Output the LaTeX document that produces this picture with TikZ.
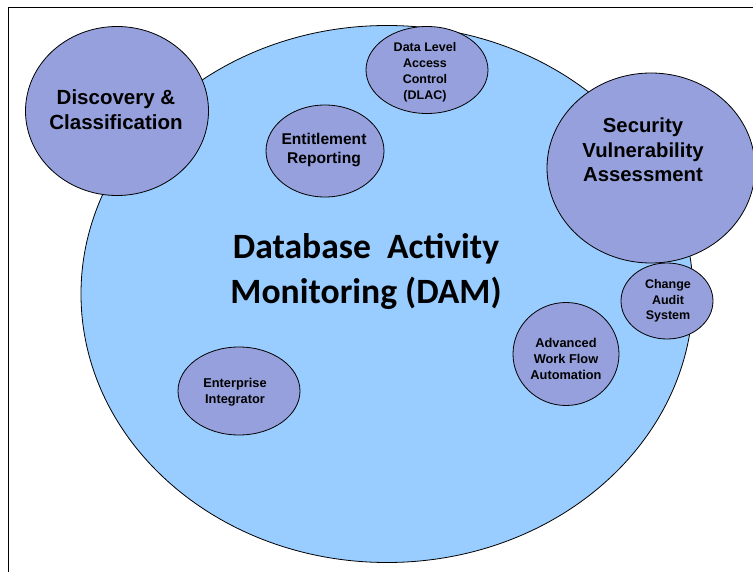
\documentclass[tikz,border=0pt]{standalone}
\usepackage{fontspec}
\setmainfont{Liberation Sans}
\newfontfamily\calibrifont{Carlito}
\usetikzlibrary{shapes.geometric}

\begin{document}
\begin{tikzpicture}[x=1pt, y=-1pt]
            \tikzset{
                bubble/.style={
                    ellipse, draw=black, line width=0.8pt,
                    fill=bubbleColor, inner sep=0pt
                },
                bubble text/.style={
                    align=center, font=\bfseries, inner sep=0pt
                }
            }

            % Colors of the fills
            \definecolor{mainColor}{RGB}{153,204,255}
            \definecolor{bubbleColor}{RGB}{150,160,220}

            \useasboundingbox (0,0) rectangle (753,572);

            % --- FRAME (left and top edges only) ---
            \draw[line width=0.9pt] (8,572) -- (8,7) -- (753,7);

            % --- THE MAIN ELLIPSE ---
            \node[ellipse, draw=black, line width=0.8pt, fill=mainColor,
                  minimum width=612, minimum height=537, inner sep=0pt]
                  (damShape) at (387,294) {};

            % Main label
            \node[align=center, inner sep=0pt,
                  font=\calibrifont\bfseries\fontsize{35.6}{45}\selectfont]
                  (dam) at (366,272) {Database~ Activity\\Monitoring (DAM)};

            % --- THE BUBBLES ---
            % Discovery & Classification
            \node[bubble, minimum width=183, minimum height=169] (dscShape) at (117,111) {};
            \node[bubble text, font=\bfseries\fontsize{20.5}{25}\selectfont]
                  (dsc) at (116,110) {Discovery \&\\Classification};

            % Data Level Access Control
            \node[bubble, minimum width=122, minimum height=87] (dlacShape) at (427,70) {};
            \node[bubble text, font=\bfseries\fontsize{12.5}{16}\selectfont]
                  (dlac) at (425,72) {Data Level\\Access\\Control\\(DLAC)};

            % Entitlement Reporting
            \node[bubble, minimum width=118, minimum height=92] (entShape) at (325,151) {};
            \node[bubble text, font=\bfseries\fontsize{15.6}{19.5}\selectfont]
                  (ent) at (324,150) {Entitlement\\Reporting};

            % Security Vulnerability Assessment
            \node[bubble, minimum width=208, minimum height=190] (svaShape) at (651,168) {};
            \node[bubble text, font=\bfseries\fontsize{20.3}{24.5}\selectfont]
                  (sva) at (643,150) {Security\\Vulnerability\\Assessment};

            % Change Audit System
            \node[bubble, minimum width=92, minimum height=76] (casShape) at (667,301) {};
            \node[bubble text, font=\bfseries\fontsize{12.5}{15.5}\selectfont]
                  (cas) at (668,301) {Change\\Audit\\System};

            % Advanced Work Flow Automation
            \node[bubble, minimum width=106, minimum height=103] (awfShape) at (566,354) {};
            \node[bubble text, font=\bfseries\fontsize{12.8}{16}\selectfont]
                  (awf) at (566,359) {Advanced\\Work Flow\\Automation};

            % Enterprise Integrator
            \node[bubble, minimum width=122, minimum height=88] (entiShape) at (239,391) {};
            \node[bubble text, font=\bfseries\fontsize{12.8}{16}\selectfont]
                  (enti) at (235,392) {Enterprise\\Integrator};
\end{tikzpicture}
\end{document}
